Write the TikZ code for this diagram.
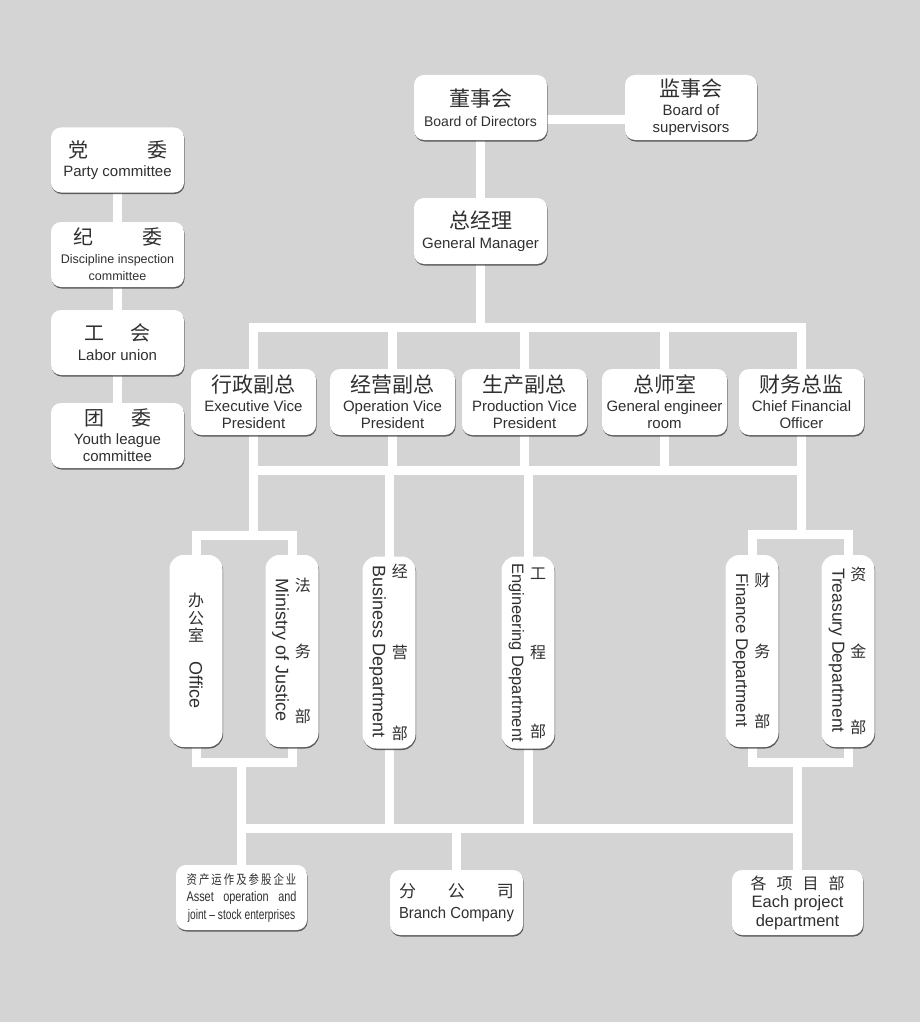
\documentclass[tikz,border=0pt]{standalone}
\usepackage{fontspec}
\usepackage{graphicx}
\setmainfont{Liberation Sans}
\newfontfamily\cjk{Noto Sans CJK SC}
\usetikzlibrary{shadows,backgrounds}
\definecolor{bggray}{RGB}{212,212,212}
\definecolor{inkgray}{RGB}{48,48,48}
% fonts
\newcommand\zhbig{\cjk\fontsize{21}{22}\selectfont}
\newcommand\zhleft{\cjk\fontsize{20}{22}\selectfont}
\newcommand\zhv{\cjk\fontsize{16}{17.5}\selectfont}
\newcommand\ensmall{\fontsize{12.5}{15}\selectfont}
% vertical department: height of char column, english, three chars
\newcommand\vdept[5]{%
  \rotatebox[origin=c]{-90}{\fontsize{18}{20}\selectfont #2}\hspace{5pt}%
  \parbox[c][#1][s]{18pt}{\centering\zhv #3\par\vfill #4\par\vfill #5}}
\begin{document}
\begin{tikzpicture}[x=1pt,y=-1pt,
  box/.style={fill=white,rounded corners=10pt,text=inkgray,align=center,
    inner sep=0pt,minimum width=133pt,minimum height=65pt,
    font=\fontsize{15}{17.5}\selectfont,
    drop shadow={shadow xshift=0.6pt,shadow yshift=-1.5pt,
      fill=black!80,opacity=0.75}},
  midbox/.style={box,minimum width=125pt,minimum height=66pt},
  vbox/.style={box,rounded corners=14pt,minimum width=53pt,minimum height=192pt},
  conn/.style={white,line width=9pt},
  bar/.style={conn,line cap=rect}]
\useasboundingbox (0,0) rectangle (920,1022);

% board and manager
\node[box] (dsh) at (480.5,107.5) {{\zhbig 董事会}\\[3pt]{\fontsize{14}{16}\selectfont Board of Directors}};
\node[box,minimum width=132pt] (jsh) at (691,107.5) {{\zhbig 监事会}\\[1pt]Board of\\supervisors};
\node[box,minimum height=66pt] (zjl) at (480.5,231) {{\zhbig 总经理}\\[3pt]General Manager};

% party side
\node[box] (dw) at (117.5,160) {{\zhleft 党\hspace{59pt}委}\\[2pt]Party committee};
\node[box] (jw) at (117.5,254.5) {{\zhleft 纪\hspace{49pt}委}\\[1pt]{\ensmall Discipline inspection}\\{\ensmall committee}};
\node[box] (gh) at (117.5,342.5) {{\zhleft 工\hspace{26pt}会}\\[2.5pt]Labor union};
\node[box] (tw) at (117.5,435.5) {{\zhleft 团\hspace{27pt}委}\\[1pt]Youth league\\committee};

% vice presidents
\node[midbox] (xz) at (253.5,402) {{\zhbig 行政副总}\\[1pt]Executive Vice\\President};
\node[midbox] (jy) at (392.5,402) {{\zhbig 经营副总}\\[1pt]Operation Vice\\President};
\node[midbox] (sc) at (524.5,402) {{\zhbig 生产副总}\\[1pt]Production Vice\\President};
\node[midbox] (zs) at (664.5,402) {{\zhbig 总师室}\\[1pt]General engineer\\room};
\node[midbox] (cw) at (801.5,402) {{\zhbig 财务总监}\\[1pt]Chief Financial\\Officer};

% departments
\node[vbox] (bgs) at (196,651) {{\zhv 办}\\{\zhv 公}\\{\zhv 室}\\[18pt]\rotatebox[origin=c]{-90}{\fontsize{18}{20}\selectfont Office}};
\node[vbox] (fw) at (292,651) {\vdept{145pt}{Ministry of Justice}{法}{务}{部}};
\node[vbox] (jyb) at (389,652.5) {\vdept{175pt}{Business Department}{经}{营}{部}};
\node[vbox] (gcb) at (528,652.5) {\vdept{170pt}{\fontsize{16.5}{18}\selectfont Engineering Department}{工}{程}{部}};
\node[vbox] (cwb) at (752,651) {\vdept{155pt}{\fontsize{17}{18}\selectfont Finance Department}{财}{务}{部}};
\node[vbox] (zjb) at (848,651) {\vdept{167pt}{\fontsize{17.5}{18}\selectfont Treasury Department}{资}{金}{部}};

% companies
\node[box,minimum width=131pt,font=\fontsize{14}{17.5}\selectfont] (zc) at (241.5,897.5)
  {\scalebox{0.8}[1]{\makebox[137pt]{\cjk\fontsize{13}{15}\selectfont 资\hfill 产\hfill 运\hfill 作\hfill 及\hfill 参\hfill 股\hfill 企\hfill 业}}\\
   \scalebox{0.78}[1]{\makebox[141pt][s]{Asset operation and}}\\
   \scalebox{0.73}[1]{joint – stock enterprises}};
\node[box] (fgs) at (456.5,902.5)
  {\makebox[115pt]{\cjk\fontsize{17}{19}\selectfont 分\hfill 公\hfill 司}\\[4pt]
   \scalebox{0.93}[1]{\fontsize{16}{18}\selectfont Branch Company}};
\node[box,minimum width=131pt,font=\fontsize{16.5}{18.5}\selectfont] (xm) at (797.5,902.5)
  {\makebox[94pt]{\cjk\fontsize{16}{18}\selectfont 各\hfill 项\hfill 目\hfill 部}\\Each project\\department};

\coordinate (bar1) at (480.5,327);
\coordinate (bar2) at (480.5,470);
\coordinate (bar3) at (480.5,828);
\coordinate (ltop) at (244,535);
\coordinate (lbot) at (244,762);
\coordinate (rtop) at (801,534);
\coordinate (rbot) at (801,762);

\begin{scope}[on background layer]
\fill[bggray] (0,0) rectangle (920,1022);
\draw[conn] (dw) -- (tw);
\draw[conn] ([yshift=-12.5pt]dsh.east) -- ([yshift=-12.5pt]jsh.west);
\draw[conn] (dsh) -- (zjl) -- (zjl |- bar1);
\draw[bar] (xz |- bar1) -- (cw |- bar1);
\draw[conn] (xz |- bar1) -- (xz |- bar2);
\draw[conn] (jy |- bar1) -- (jy |- bar2);
\draw[conn] (sc |- bar1) -- (sc |- bar2);
\draw[conn] (zs |- bar1) -- (zs |- bar2);
\draw[conn] (cw |- bar1) -- (cw |- bar2);
\draw[bar] (xz |- bar2) -- (cw |- bar2);
% left group
\draw[conn] (xz |- bar2) -- (xz |- ltop);
\draw[conn] (bgs |- ltop) rectangle (fw |- lbot);
\draw[conn] (zc |- lbot) -- (zc.north);
% middle departments
\draw[conn] (jyb |- bar2) -- (jyb |- bar3);
\draw[conn] (gcb |- bar2) -- (gcb |- bar3);
% right group
\draw[conn] (cw |- bar2) -- (cw |- rtop);
\draw[conn] (cwb |- rtop) rectangle (zjb |- rbot);
\draw[conn] (xm |- rbot) -- (xm.north);
% companies
\draw[bar] (zc |- bar3) -- (xm |- bar3);
\draw[conn] (fgs |- bar3) -- (fgs.north);
\end{scope}
\end{tikzpicture}
\end{document}
